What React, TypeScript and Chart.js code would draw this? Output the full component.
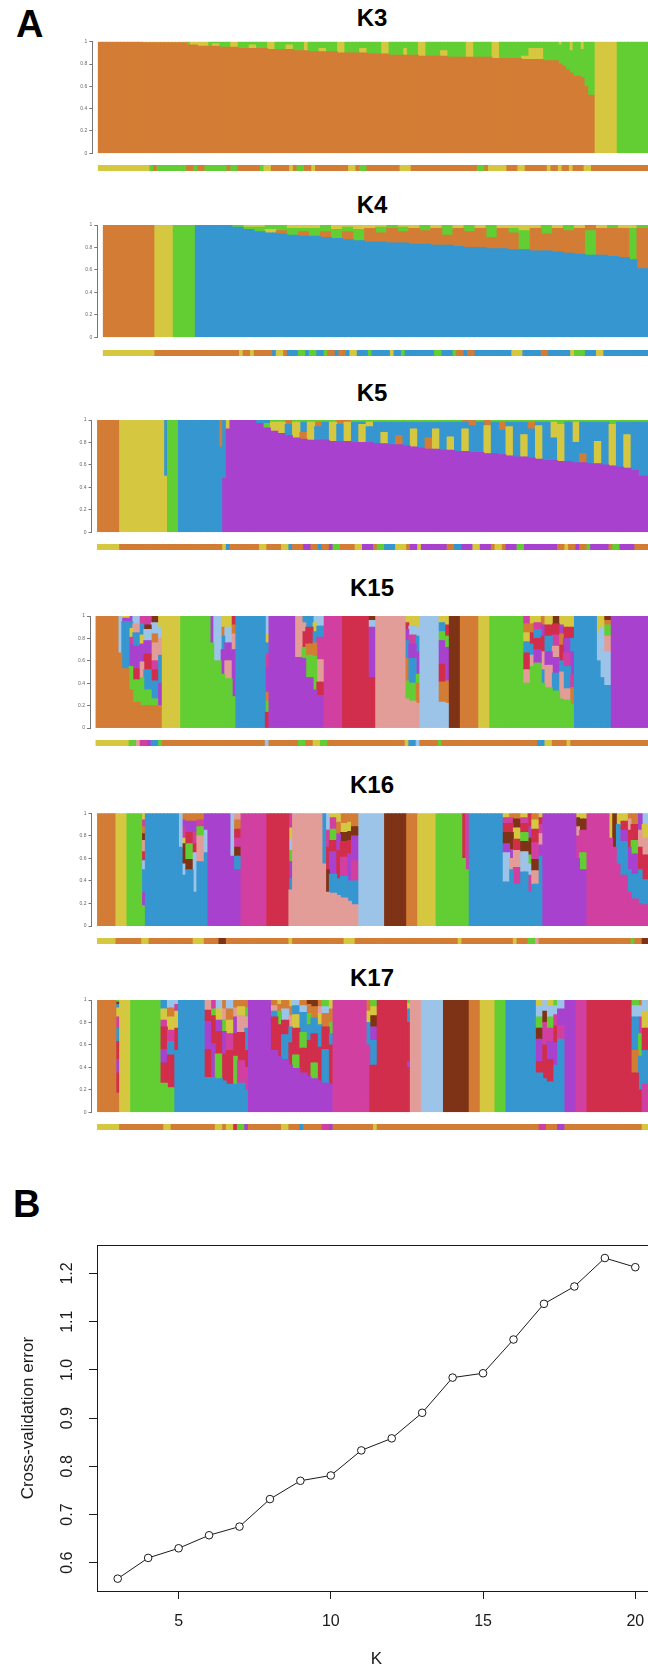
import React, { useEffect, useRef } from "react";
import { Chart, registerables } from "chart.js";
Chart.register(...registerables);

const FONT = "'Liberation Sans', Arial, Helvetica, sans-serif";

// cluster colours
const COLORS: Record<string, string> = {
  O: "#D37C35", Y: "#D5C840", G: "#62CE34", B: "#3696D0", P: "#A842CE",
  M: "#D140A0", R: "#D12E4C", S: "#E29D98", L: "#9CC4E8", D: "#7E3216",
};

// ---------- Panel A data: runs of individuals "count C%% C%% ..." (bottom -> top) ----------
const K3_BARS = [
  "12 O100", "12 O99 Y1", "1 O97 G3", "2 O97 Y3", "3 O96 Y4", "1 O96 G4", "2 O96 Y2 G2",
  "3 O95 G5", "2 O95 Y5", "3 O94 G6", "2 O94 Y3 G3", "3 O94 G6", "2 O93 Y7", "3 O93 G7",
  "2 O93 Y4 G3", "3 O92 G8", "1 O92 Y8", "3 O91 G9", "2 O91 Y3 G6", "3 O91 G9", "2 O90 Y10",
  "4 O90 G10", "2 O90 Y4 G6", "4 O89 G11", "2 O89 Y11", "4 O88 G12", "1 O88 Y6 G6", "3 O88 G12",
  "2 O87 Y13", "4 O87 G13", "2 O87 Y5 G8", "5 O86 G14", "2 O86 Y14", "5 O86 G14", "2 O85 Y15",
  "6 O85 G15", "2 O84 Y3 G13", "4 O84 Y10 G6", "4 O83 G17", "1 O80 G17 Y3", "1 O78 G22",
  "1 O75 G25", "1 O72 G20 Y8", "2 O69 G31", "1 O68 G25 Y7", "1 O60 G40", "2 O52 G48",
  "6 Y100", "9 G100",
];
const K3_STRIP = [
  "14 Y", "1 G", "1 O", "8 G", "2 O", "1 G", "2 O", "6 G", "1 O", "2 G", "6 O", "1 G", "2 Y", "5 O",
  "1 Y", "1 O", "2 G", "2 O", "1 Y", "9 O", "2 Y", "1 O", "2 G", "9 O", "3 Y", "18 O", "2 G", "1 O",
  "5 Y", "3 O", "2 Y", "6 O", "1 Y", "2 O", "1 Y", "2 O", "1 Y", "3 O", "2 Y", "16 O",
];

const K4_BARS = [
  "14 O100", "5 Y100", "6 G100", "10 B100", "3 B98 G2", "3 B96 G2 Y2", "3 B94 G4 Y2", "3 B93 Y3 G4",
  "3 B92 O3 G5", "3 B91 G6 Y3", "3 B90 O4 G3 Y3", "3 B90 G7 Y3", "3 B89 O5 G6", "3 B88 G8 Y4",
  "3 B87 O7 G4 Y2", "3 B86 G10 Y4", "3 B85 O12 Y3", "3 B85 O8 G5 Y2", "3 B84 O13 G3",
  "3 B84 O10 G4 Y2", "3 B83 O14 Y3", "3 B83 O12 G5", "3 B82 O15 Y3", "3 B82 O9 G9", "3 B81 O16 Y3",
  "3 B80 O14 G6", "3 B80 O17 Y3", "3 B79 O10 G11", "3 B79 O18 Y3", "3 B78 O15 G4 Y3", "3 B78 G17 Y5",
  "3 B77 O20 Y3", "3 B77 O15 G8", "3 B76 O21 Y3", "3 B75 O20 G5", "3 B74 O23 Y3", "3 B73 G22 O5",
  "3 B73 O24 Y3", "3 B72 O25 G3", "3 B71 O26 Y3", "2 B69 G28 Y3", "5 B61 O36 G3",
];
const K4_STRIP = [
  "14 Y", "23 O", "1 Y", "2 O", "1 Y", "5 O", "1 B", "2 Y", "1 O", "3 B", "2 G", "1 B", "2 G", "2 B",
  "1 G", "2 O", "1 B", "2 O", "1 B", "2 Y", "3 B", "1 G", "5 B", "1 Y", "2 B", "1 G", "8 B", "2 G",
  "3 B", "1 G", "2 O", "1 B", "2 O", "10 B", "3 Y", "5 B", "2 O", "6 B", "1 Y", "3 G", "3 B", "2 Y", "14 B",
];

const K5_BARS = [
  "6 O100", "12 Y100", "1 Y50 B50", "3 G100", "11 B100", "1 B76 O24", "1 P48 B52", "1 P92 Y8",
  "7 P100", "2 P97 B3", "2 P93 G4 B3", "2 P90 Y8 G2", "2 P88 Y10 G2", "2 P86 B10 O4", "2 P84 Y14 G2",
  "2 P83 O6 B9 G2", "2 P82 Y16 G2", "2 P82 B12 O4 G2", "2 P82 B16 G2", "2 P81 Y17 G2", "2 P81 B15 O4",
  "2 P81 Y17 O2", "2 P80 B18 G2", "2 P80 Y16 B2 G2", "2 P80 B14 Y4 G2", "2 P79 B19 G2",
  "2 P79 Y10 B9 G2", "2 P78 B20 G2", "2 P78 O8 B12 G2", "2 P77 B21 G2", "2 P76 Y16 B6 G2",
  "2 P75 B23 G2", "2 P74 O10 B14 G2", "2 P74 Y18 B6 G2", "2 P73 B25 G2", "2 P73 Y12 B13 G2",
  "2 P72 B26 G2", "2 P72 Y20 B6 O2", "2 P71 B24 O5", "2 P71 B27 G2", "2 P70 Y25 O5", "2 P70 B28 G2",
  "2 P69 B22 O7 G2", "2 P68 Y26 B4 G2", "2 P67 B31 G2", "2 P67 Y20 B11 G2", "2 P66 B26 O6 G2",
  "2 P65 Y30 B3 G2", "2 P64 B34 G2", "2 P64 B20 Y14 G2", "2 P63 Y33 G4", "2 P63 B35 G2",
  "2 P62 B18 Y18 G2", "2 P62 O8 B28 G2", "2 P61 B37 G2", "2 P61 Y20 B17 G2", "2 P60 B38 G2",
  "2 P59 Y37 G4", "2 P58 B40 G2", "2 P57 Y30 B11 G2", "2 P55 B43 G2", "3 P50 B48 G2",
];
const K5_STRIP = [
  "6 Y", "28 O", "1 Y", "1 B", "8 O", "2 Y", "4 O", "2 Y", "1 B", "3 O", "2 P", "2 O", "1 B", "2 O",
  "1 P", "2 G", "4 O", "2 Y", "3 P", "1 O", "2 G", "3 B", "3 Y", "1 O", "2 P", "1 Y", "7 P", "2 O",
  "2 B", "3 P", "2 Y", "3 P", "1 O", "2 Y", "1 O", "3 P", "2 G", "9 P", "2 O", "1 Y", "2 O", "1 P",
  "2 O", "1 G", "5 P", "1 O", "2 G", "4 P", "4 O",
];

const K15_BARS = [
  "6 O100", "1 O67 L33", "2 O53 B42 P3 Y2", "1 O34 G21 P20 M6 Y8 B6 P5", "2 O23 G20 R10 P20 B12 S8 L7",
  "1 O20 G25 S14 P16 Y8 B10 M7", "2 O20 G14 B18 R14 P12 L10 D4 M8", "2 O20 G6 B16 R10 M8 S16 O8 L10 D6",
  "1 O20 P20 B25 S15 L10 Y10", "5 Y100", "8 G100",
  "1 G76 P24", "2 G60 L40", "1 G48 P22 B12 O8 Y10", "2 G44 S16 P16 L14 Y10", "1 G28 P42 S14 O8 R8",
  "8 B100", "1 R14 G10 O8 P22 M12 B10 Y8 L16", "7 P100",
  "2 P63 S37", "1 P62 G10 R14 S8 B6", "2 P45 G20 O10 R15 B10", "1 P34 G30 O12 B10 Y8 L6", "2 P29 R12 S20 M20 B10 L9",
  "5 M100", "7 R100", "2 R45 P45 L6 D4", "8 S100",
  "1 S26 G16 O20 B16 P10 R6 Y6", "2 S24 G16 B22 P13 M8 L8 Y9", "1 S22 O18 G8 P20 B14 L8 Y10",
  "5 L100", "2 L23 O18 R16 P21 G8 B8 Y6", "1 L22 O20 P30 G10 R10 Y8",
  "3 D100", "5 O100", "3 Y100", "9 G100",
  "2 G40 S12 R15 B10 Y8 O8 M7", "1 G55 S10 B10 R10 O8 Y7", "2 G58 P12 R10 B8 M6 Y6", "1 G40 B12 S16 R14 P10 O8",
  "2 G36 S20 P12 B14 R10 Y8", "2 G33 B16 P14 S10 M10 R10 D7", "1 G26 S24 B10 R14 O10 P8 Y8",
  "2 G25 S10 B20 M12 P13 R10 Y10", "1 G21 O15 M12 P20 B12 R10 Y10",
  "6 B100", "1 B60 L25 Y15", "1 B45 L45 Y10", "2 B38 L30 S14 G10 O4 D4", "10 P100",
];
const K15_STRIP = [
  "9 Y", "2 G", "1 S", "2 M", "1 P", "2 B", "1 G", "28 O", "1 L", "8 O", "2 G", "2 O", "2 Y", "2 G",
  "21 O", "1 Y", "2 B", "1 L", "5 O", "1 G", "26 O", "2 B", "2 Y", "4 O", "1 Y", "21 O",
];

const K16_BARS = [
  "5 O100", "3 Y100", "4 G100", "1 G18 P12 B20 L8 R8 S10 D6 O6 M6 Y6", "9 B100", "1 B70 L30",
  "1 B45 L10 D18 Y5 M10 P6 O6", "2 B50 D9 G14 R10 P10 O7", "1 B30 L35 R8 M10 P10 O7", "2 B57 S23 G8 M6 O6",
  "1 B65 L20 P15", "6 P100", "1 P62 L38", "2 P50 B12 D8 M8 R8 O8 S6", "7 M100", "6 R100",
  "1 S32 B10 P15 G10 L10 Y10 M13", "8 S100", "1 S55 B45", "1 S30 D20 R20 M15 L15",
  "2 S29 B17 P20 R10 G10 M10 Y4", "1 S27 B15 R25 P15 O10 Y8", "2 S25 B19 M17 R14 D8 Y8 O9",
  "1 S22 B18 P24 R12 D8 Y8 O8", "2 S19 B21 M18 P22 D8 O12",
  "7 L100", "6 D100", "3 O100", "5 Y100", "7 G100", "1 G60 R40", "1 G50 M50", "9 B100",
  "2 B39 L26 P8 D10 R8 M5 Y4", "1 B50 S10 P8 D15 R8 M5 O4", "2 B37 M15 S15 R10 Y10 D8 O5",
  "2 B48 L18 D9 G8 R8 M5 Y4", "1 B30 M15 L10 G8 D15 P10 R12", "2 B37 S12 D10 M15 R12 Y8 O6",
  "1 B62 P10 S10 M8 R6 Y4", "9 P100", "1 P60 M20 S8 D8 Y4", "2 P50 G15 M20 D10 Y5",
  "6 M100", "1 M78 Y22", "1 M70 D30", "1 M55 B35 Y10", "2 M45 B30 P10 R8 Y7",
  "1 M30 B20 P20 R15 S10 O5", "2 M24 B22 P18 G12 R14 O10", "1 M20 B30 R20 S15 P15", "2 M19 B22 R22 S15 Y12 L10",
];
const K16_STRIP = [
  "5 Y", "7 O", "2 Y", "12 O", "3 Y", "4 O", "2 D", "17 O", "1 Y", "14 O", "3 Y", "28 O", "1 Y",
  "14 O", "1 Y", "3 O", "2 G", "1 S", "25 O", "1 G", "2 O", "2 D",
];

const K17_BARS = [
  "5 O100", "1 O17 R18 P12 R16 B12 M10 Y8 B3 D2 G2", "3 Y100", "8 G100",
  "2 G26 R18 P12 R20 M6 Y10 B8", "2 G22 R29 B12 M10 Y12 O8 L7", "1 B55 R20 Y15 M6 L4", "7 B100",
  "2 B31 R25 P25 R10 S9", "1 B31 P30 R25 G6 M8", "2 B30 G22 R20 P10 Y10 L8", "1 B28 R24 P20 G10 S10 O8",
  "2 B25 R30 M15 Y12 O10 L8", "1 B25 G25 R20 P15 S8 O7", "2 B26 M20 R25 S15 Y8 O6", "1 B20 M20 R15 B20 S10 G8 O7",
  "6 P100",
  "2 P55 R30 B5 S5 O5", "1 P50 R28 G12 O6 Y4", "2 P47 B22 R13 L10 O8", "1 P42 R20 B14 S10 O8 Y6",
  "2 P39 G12 R24 Y12 B8 L5", "2 P35 R22 G14 B18 L6 O5", "1 P32 R32 B14 G10 O8 D4", "2 P30 G14 R26 B14 O10 D6",
  "1 P28 R30 B20 Y10 S6 O6", "2 P26 B30 R20 O12 L6 G6", "1 P25 R35 B10 G10 O12 Y8",
  "9 M100", "1 M60 B20 Y10 O10", "2 R42 B22 P12 D10 Y8 G6", "8 R100", "1 R40 P5 R35 B12 Y5 G3",
  "3 S100", "6 L100", "7 D100", "3 O100", "4 Y100", "3 G100", "8 B100",
  "2 B35 R10 P20 D10 G10 L10 Y5", "1 B30 R30 M20 D10 L10", "2 B27 R20 P16 M12 G10 L10 Y5",
  "1 B42 P20 R15 M10 L8 G5", "2 B65 M12 P15 L8", "3 P100", "3 M100", "12 R100",
  "2 R35 O20 B30 L10 G5", "1 R20 B30 G20 M15 L10 O5", "2 M25 B30 R20 Y15 L10",
];
const K17_STRIP = [
  "6 Y", "12 O", "2 Y", "12 O", "2 Y", "1 O", "2 Y", "1 R", "2 G", "1 P", "9 O", "2 Y", "3 O", "1 B",
  "5 O", "2 M", "1 P", "11 O", "1 Y", "44 O", "2 M", "3 O", "2 P", "21 O", "2 Y",
];

const ADMIX_Y_TICKS = [0, 0.2, 0.4, 0.6, 0.8, 1];

// ---------- Panel B data ----------
const CV_K = [3, 4, 5, 6, 7, 8, 9, 10, 11, 12, 13, 14, 15, 16, 17, 18, 19, 20];
const CV_ERROR = [0.567, 0.61, 0.63, 0.657, 0.675, 0.732, 0.77, 0.781, 0.833, 0.858, 0.911, 0.984, 0.993, 1.063, 1.137, 1.173, 1.232, 1.213];
const CV_X_TICKS = [5, 10, 15, 20];
const CV_Y_TICKS = [0.6, 0.7, 0.8, 0.9, 1.0, 1.1, 1.2];

// ---------- layout ----------
const UNIT = 3.68;
const CANVAS_W = 660;
const PANELS = [
  { title: "K3", bars: K3_BARS, strip: K3_STRIP, axisX: 92.3, barStart: 98.3, top: 41.7, bottom: 153.3, sTop: 165, sBot: 171, tTop: 9 },
  { title: "K4", bars: K4_BARS, strip: K4_STRIP, axisX: 97.3, barStart: 103.3, top: 225, bottom: 337.3, sTop: 350, sBot: 356, tTop: 195.6 },
  { title: "K5", bars: K5_BARS, strip: K5_STRIP, axisX: 91.5, barStart: 97.5, top: 420, bottom: 532.3, sTop: 543.5, sBot: 549.5, tTop: 384 },
  { title: "K15", bars: K15_BARS, strip: K15_STRIP, axisX: 90, barStart: 96, top: 616, bottom: 728, sTop: 740, sBot: 746, tTop: 579 },
  { title: "K16", bars: K16_BARS, strip: K16_STRIP, axisX: 91.5, barStart: 97.5, top: 813.3, bottom: 926, sTop: 938, sBot: 944, tTop: 775.6 },
  { title: "K17", bars: K17_BARS, strip: K17_STRIP, axisX: 91.5, barStart: 97.5, top: 1000, bottom: 1112.3, sTop: 1124, sBot: 1130, tTop: 969 },
];

type Seg = { c: string; v: number };

function parseBars(runs: string[]): Seg[][] {
  const out: Seg[][] = [];
  for (const r of runs) {
    const [n, ...segs] = r.trim().split(/\s+/);
    const parsed = segs.map((s) => ({ c: s[0], v: parseFloat(s.slice(1)) }));
    const total = parsed.reduce((a, b) => a + b.v, 0);
    const norm = parsed.map((p) => ({ c: p.c, v: p.v / total }));
    for (let i = 0; i < parseInt(n, 10); i++) out.push(norm);
  }
  return out;
}

function parseStrip(runs: string[]): string[] {
  const out: string[] = [];
  for (const r of runs) {
    const [n, c] = r.trim().split(/\s+/);
    for (let i = 0; i < parseInt(n, 10); i++) out.push(COLORS[c]);
  }
  return out;
}

function xRange(p: any) {
  const min = -0.5 - (p.barStart - p.axisX) / UNIT;
  const max = min + (CANVAS_W - p.axisX) / UNIT;
  return { min, max };
}

function admixConfig(p: any, padTop: number, padBottom: number): any {
  const bars = parseBars(p.bars);
  const maxL = Math.max(...bars.map((b) => b.length));
  const datasets: any[] = [];
  for (let L = 0; L < maxL; L++) {
    datasets.push({
      data: bars.map((b, i) => ({ x: i, y: b[L] ? b[L].v : 0 })),
      backgroundColor: bars.map((b) => (b[L] ? COLORS[b[L].c] : "rgba(0,0,0,0)")),
      borderWidth: 0,
      barPercentage: 1,
      categoryPercentage: 1,
      inflateAmount: 0.45,
      stack: "s",
    });
  }
  const { min, max } = xRange(p);
  return {
    type: "bar",
    data: { datasets },
    options: {
      animation: false,
      responsive: false,
      maintainAspectRatio: false,
      layout: { padding: { top: padTop, bottom: padBottom, left: 0, right: 0 } },
      plugins: { legend: { display: false }, tooltip: { enabled: false }, title: { display: false } },
      scales: {
        x: { type: "linear", display: false, stacked: true, min, max, offset: false, ticks: { includeBounds: false, stepSize: 10 } },
        y: {
          stacked: true, min: 0, max: 1,
          afterBuildTicks: (s: any) => { s.ticks = ADMIX_Y_TICKS.map((v) => ({ value: v })); },
          afterFit: (s: any) => { s.width = p.axisX; },
          ticks: { font: { size: 5, family: FONT }, color: "#666", padding: 2, autoSkip: false, callback: (v: any) => String(v) },
          grid: { display: true, drawOnChartArea: false, drawTicks: true, tickLength: 3, color: "#777" },
          border: { display: true, color: "#777", width: 1 },
        },
      },
    },
  };
}

function stripConfig(p: any): any {
  const colors = parseStrip(p.strip);
  const { min, max } = xRange(p);
  return {
    type: "bar",
    data: {
      datasets: [{
        data: colors.map((_, i) => ({ x: i, y: 1 })),
        backgroundColor: colors,
        borderWidth: 0, barPercentage: 1, categoryPercentage: 1, inflateAmount: 0.45,
      }],
    },
    options: {
      animation: false, responsive: false, maintainAspectRatio: false,
      layout: { padding: 0 },
      plugins: { legend: { display: false }, tooltip: { enabled: false } },
      scales: {
        x: { type: "linear", display: false, min, max, offset: false, ticks: { includeBounds: false, stepSize: 10 } },
        y: { display: false, min: 0, max: 1 },
      },
    },
  };
}

function cvConfig(): any {
  const black = "#1a1a1a";
  return {
    type: "line",
    data: {
      datasets: [{
        data: CV_K.map((k, i) => ({ x: k, y: CV_ERROR[i] })),
        borderColor: black, borderWidth: 1, tension: 0,
        pointRadius: 3.8, pointBorderWidth: 1, pointBorderColor: black, pointBackgroundColor: "#ffffff",
      }],
    },
    options: {
      animation: false, responsive: false, maintainAspectRatio: false,
      layout: { padding: { top: 6, left: 0, right: 0, bottom: 0 } },
      plugins: { legend: { display: false }, tooltip: { enabled: false } },
      scales: {
        x: {
          type: "linear", position: "bottom", min: 2.32, max: 20.68,
          afterBuildTicks: (s: any) => { s.ticks = CV_X_TICKS.map((v) => ({ value: v })); },
          afterFit: (s: any) => { s.height = 80; },
          ticks: { font: { size: 16, family: FONT }, color: black, padding: 13, maxRotation: 0, autoSkip: false },
          grid: { display: true, drawOnChartArea: false, drawTicks: true, tickLength: 8, color: black },
          border: { display: true, color: black, width: 1 },
          title: { display: true, text: "K", font: { size: 17, family: FONT }, color: black, padding: { top: 0, bottom: 1 } },
        },
        xTop: {
          type: "linear", position: "top", min: 2.32, max: 20.68,
          afterFit: (s: any) => { s.height = 0; },
          ticks: { display: false }, grid: { display: false },
          border: { display: true, color: black, width: 1 },
        },
        y: {
          type: "linear", min: 0.5414, max: 1.2586,
          afterBuildTicks: (s: any) => { s.ticks = CV_Y_TICKS.map((v) => ({ value: v })); },
          afterFit: (s: any) => { s.width = 97; },
          ticks: {
            font: { size: 16, family: FONT }, color: black, padding: 10.6, minRotation: 90, maxRotation: 90,
            crossAlign: "center", autoSkip: false, callback: (v: any) => Number(v).toFixed(1),
          },
          grid: { display: true, drawOnChartArea: false, drawTicks: true, tickLength: 8, color: black },
          border: { display: true, color: black, width: 1 },
          title: { display: true, text: "Cross-validation error", font: { size: 17, family: FONT }, color: black, padding: { top: 18, bottom: 0 } },
        },
      },
    },
  };
}

function ChartCanvas({ left, top, width, height, make }: { left: number; top: number; width: number; height: number; make: () => any }) {
  const ref = useRef<HTMLCanvasElement>(null);
  useEffect(() => {
    const chart = new Chart(ref.current as HTMLCanvasElement, make());
    return () => chart.destroy();
  }, []);
  return (
    <div style={{ position: "absolute", left, top, width, height }}>
      <canvas ref={ref} width={width} height={height} style={{ width, height, display: "block" }} />
    </div>
  );
}

function Panel({ p }: { p: any }) {
  const cTop = Math.floor(p.top) - 5;
  const cBot = Math.ceil(p.bottom) + 5;
  const padTop = p.top - cTop;
  const padBottom = cBot - p.bottom;
  const sTop = Math.round(p.sTop);
  const sH = Math.max(1, Math.round(p.sBot - p.sTop));
  const sLeft = Math.round(p.axisX);
  return (
    <>
      <div style={{ position: "absolute", left: 272, width: 200, top: p.tTop - 3.1, textAlign: "center", font: `bold 24px ${FONT}`, lineHeight: "24px", color: "#000" }}>
        {p.title}
      </div>
      <ChartCanvas left={0} top={cTop} width={CANVAS_W} height={cBot - cTop} make={() => admixConfig(p, padTop, padBottom)} />
      <ChartCanvas left={sLeft} top={sTop} width={CANVAS_W - sLeft} height={sH} make={() => stripConfig({ ...p, axisX: sLeft })} />
    </>
  );
}

export default function App() {
  return (
    <div style={{ position: "absolute", left: 0, top: 0, width: 648, height: 1671, overflow: "hidden", background: "#fff" }}>
      <div style={{ position: "absolute", left: 16, top: 5, font: `bold 38px ${FONT}`, lineHeight: "38px", color: "#000" }}>A</div>
      {PANELS.map((p) => (
        <Panel key={p.title} p={p} />
      ))}
      <div style={{ position: "absolute", left: 13, top: 1185, font: `bold 38px ${FONT}`, lineHeight: "38px", color: "#000" }}>B</div>
      <ChartCanvas left={0} top={1225} width={661} height={446} make={cvConfig} />
    </div>
  );
}
